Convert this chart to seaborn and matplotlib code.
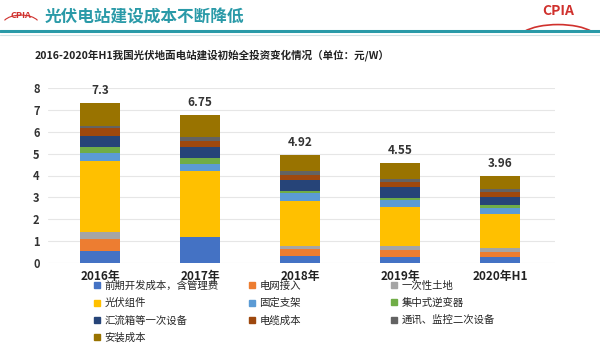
import numpy as np
import pandas as pd
import seaborn as sns
import matplotlib.pyplot as plt
from matplotlib.lines import Line2D
from matplotlib.patches import Arc

# ============================================================
# DATA (元/W)
# ============================================================
years = ['2016年', '2017年', '2018年', '2019年', '2020年H1']
totals = [7.3, 6.75, 4.92, 4.55, 3.96]

components = ['前期开发成本，含管理费', '电网接入', '一次性土地', '光伏组件', '固定支架',
              '集中式逆变器', '汇流箱等一次设备', '电缆成本', '通讯、监控二次设备', '安装成本']

dev_cost   = [0.56, 1.20, 0.30, 0.26, 0.26]
grid       = [0.52, 0.00, 0.34, 0.32, 0.26]
land       = [0.34, 0.00, 0.15, 0.18, 0.18]
module     = [3.25, 3.02, 2.04, 1.78, 1.52]
mounting   = [0.34, 0.32, 0.35, 0.34, 0.31]
inverter   = [0.30, 0.27, 0.12, 0.10, 0.12]
combiner   = [0.50, 0.50, 0.50, 0.49, 0.38]
cable      = [0.34, 0.28, 0.24, 0.24, 0.23]
secondary  = [0.11, 0.15, 0.15, 0.13, 0.12]
install    = [1.04, 1.01, 0.73, 0.71, 0.58]

colors = ['#4472C4', '#ED7D31', '#A5A5A5', '#FFC000', '#5B9BD5',
          '#70AD47', '#264478', '#9E480E', '#636363', '#997300']

# ============================================================
# STYLE
# ============================================================
sns.set_theme(style='white')
plt.rcParams['font.family'] = ['Noto Sans CJK SC', 'DejaVu Sans']

df = pd.DataFrame(
    [dev_cost, grid, land, module, mounting, inverter, combiner, cable, secondary, install],
    index=components, columns=years).T
cum = df.cumsum(axis=1)

fig = plt.figure(figsize=(6, 3.51), dpi=100)
ax = fig.add_axes([0.08, 0.2507, 0.845, 0.4986])

# stacked bars: draw cumulative sums from top layer down
for comp, col in reversed(list(zip(components, colors))):
    sns.barplot(x=years, y=cum[comp].values, color=col, width=0.4,
                saturation=1, linewidth=0, ax=ax, zorder=3)

for i, t in enumerate(totals):
    ax.text(i, t + 0.28, f'{t:g}', ha='center', va='bottom',
            fontsize=8.5, fontweight='bold', color='#333333')

ax.set_ylim(0, 8)
ax.set_xlim(-0.52, 4.55)
ax.set_yticks(range(0, 9))
ax.yaxis.grid(True, color='#e6e6e6', linewidth=0.8, zorder=0)
sns.despine(ax=ax, left=True, bottom=True)
ax.tick_params(axis='y', labelsize=8, labelcolor='#333333', length=0, pad=6)
ax.tick_params(axis='x', labelsize=8.5, labelcolor='#222222', length=0, pad=5)
for lab in ax.get_xticklabels() + ax.get_yticklabels():
    lab.set_fontweight('bold')
ax.set_xlabel('')
ax.set_ylabel('')

# legend: three columns, each its own legend
handles = [Line2D([], [], marker='s', linestyle='', markersize=5,
                  markerfacecolor=c, markeredgecolor=c) for c in colors]
columns = [[0, 3, 6, 9], [1, 4, 7], [2, 5, 8]]
col_x = [0.155, 0.413, 0.65]
for idx, x0 in zip(columns, col_x):
    fig.legend([handles[i] for i in idx], [components[i] for i in idx],
               loc='upper left', bbox_to_anchor=(x0, 0.2),
               frameon=False, fontsize=7.5, handletextpad=0.3,
               labelspacing=0.68, handlelength=0.8,
               borderaxespad=0, borderpad=0)

# header
teal = '#2a9aa8'
fig.text(0.075, 0.975, '光伏电站建设成本不断降低', fontsize=12, fontweight='bold',
         color=teal, va='top', ha='left')
fig.add_artist(Line2D([0, 1], [0.912, 0.912], color=teal, linewidth=2.2))
fig.add_artist(Line2D([0, 1], [0.899, 0.899], color='#cfe3e6', linewidth=0.8))
fig.text(0.058, 0.843, '2016-2020年H1我国光伏地面电站建设初始全投资变化情况（单位：元/W）',
         fontsize=7.6, fontweight='bold', color='#222222', va='center', ha='left')

# logos
fig.text(0.035, 0.97, 'CPIA', fontsize=6.5, fontweight='bold', color='#d0312d',
         ha='center', va='top')
fig.add_artist(Arc((0.035, 0.932), 0.06, 0.05, theta1=20, theta2=160,
                   transform=fig.transFigure, color='#d0312d', linewidth=0.8))
fig.text(0.93, 0.99, 'CPIA', fontsize=10, fontweight='bold', color='#d0312d',
         ha='center', va='top')
fig.add_artist(Arc((0.93, 0.89), 0.13, 0.08, theta1=20, theta2=160,
                   transform=fig.transFigure, color='#d0312d', linewidth=1.2))

fig.savefig('out.png', dpi=100)
